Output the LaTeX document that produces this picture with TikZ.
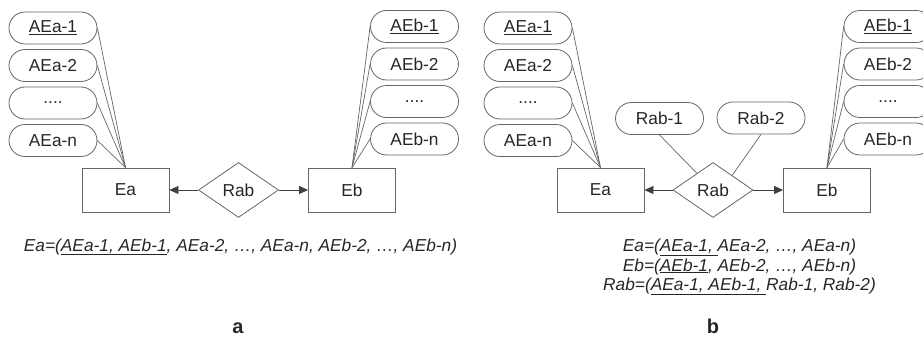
\documentclass[tikz,border=0pt]{standalone}
\usepackage{fontspec}
\setmainfont{Liberation Sans}
\usetikzlibrary{shapes.geometric,arrows.meta,calc}
\begin{document}
\begin{tikzpicture}[x=1pt,y=-1pt,
  every node/.style={font=\fontsize{17.3}{20}\selectfont, text=black!85},
  attr/.style={draw=black!60, line width=0.8pt, rounded corners=16pt, minimum width=88pt, minimum height=32pt, inner sep=0pt},
  ent/.style={draw=black!60, line width=0.8pt, minimum width=87pt, minimum height=44pt, inner sep=0pt},
  rel/.style={draw=black!60, line width=0.8pt, diamond, aspect=1.45, minimum width=80pt, minimum height=55pt, inner sep=0pt},
  conn/.style={draw=black!60, line width=0.7pt},
  arr/.style={draw=black!75, line width=0.8pt, -{Triangle[length=9pt,width=8pt]}},
  captext/.style={anchor=base, inner sep=0pt, font=\fontsize{17.3}{20}\selectfont\itshape},
  lbl/.style={anchor=base, inner sep=0pt, font=\fontsize{20}{24}\selectfont\bfseries}
]
\useasboundingbox (0,0) rectangle (923,337);

% ---------- panel a ----------
\node[attr] (aa1) at (53,28) {\underline{AEa-1}};
\node[attr] (aa2) at (53,65.5) {AEa-2};
\node[attr] (aa3) at (53,103) {....};
\node[attr] (aan) at (53,140.5) {AEa-n};
\node[ent] (ea) at (125.5,190) {Ea};
\node[rel] (rab) at (238.5,190) {Rab};
\node[ent] (eb) at (352,190) {Eb};
\node[attr] (ab1) at (414.5,26.5) {\underline{AEb-1}};
\node[attr] (ab2) at (414.5,64) {AEb-2};
\node[attr] (ab3) at (414.5,101.5) {....};
\node[attr] (abn) at (414.5,139) {AEb-n};

\foreach \n in {aa1,aa2,aa3,aan} \draw[conn] (\n.east) -- (ea.north);
\foreach \n in {ab1,ab2,ab3,abn} \draw[conn] (\n.west) -- (eb.north);
\draw[arr] (rab.west) -- (ea.east);
\draw[arr] (rab.east) -- (eb.west);

\node[captext] (capa) at (240.5,251) {Ea=(\underline{AEa-1, AEb-1}, AEa-2, …, AEa-n, AEb-2, …, AEb-n)};
\node[lbl] (la) at (238,333) {a};

% ---------- panel b ----------
\node[attr] (ba1) at (528,28) {\underline{AEa-1}};
\node[attr] (ba2) at (528,65.5) {AEa-2};
\node[attr] (ba3) at (528,103) {....};
\node[attr] (ban) at (528,140.5) {AEa-n};
\node[ent] (bea) at (600.5,190) {Ea};
\node[rel] (brab) at (713,190) {Rab};
\node[ent] (beb) at (827,190) {Eb};
\node[attr] (br1) at (659.5,118.5) {Rab-1};
\node[attr] (br2) at (761,118) {Rab-2};
\node[attr] (bb1) at (888,26.5) {\underline{AEb-1}};
\node[attr] (bb2) at (888,64) {AEb-2};
\node[attr] (bb3) at (888,101.5) {....};
\node[attr] (bbn) at (888,139) {AEb-n};

\foreach \n in {ba1,ba2,ba3,ban} \draw[conn] (\n.east) -- (bea.north);
\foreach \n in {bb1,bb2,bb3,bbn} \draw[conn] (\n.west) -- (beb.north);
\coordinate (r1end) at ($(brab.west)!0.6!(brab.north)$);
\coordinate (r2end) at ($(brab.north)!0.475!(brab.east)$);
\draw[conn] (br1.south) -- (r1end);
\draw[conn] (br2.south) -- (r2end);
\draw[arr] (brab.west) -- (bea.east);
\draw[arr] (brab.east) -- (beb.west);

\node[captext] (capb1) at (739.5,251.5) {Ea=(\underline{AEa-1, }AEa-2, …, AEa-n)};
\node[captext] (capb2) at (739.5,271) {Eb=(\underline{AEb-1}, AEb-2, …, AEb-n)};
\node[captext] (capb3) at (739.5,290.5) {Rab=(\underline{AEa-1, AEb-1, }Rab-1, Rab-2)};
\node[lbl] (lb) at (713,333) {b};
\end{tikzpicture}
\end{document}
